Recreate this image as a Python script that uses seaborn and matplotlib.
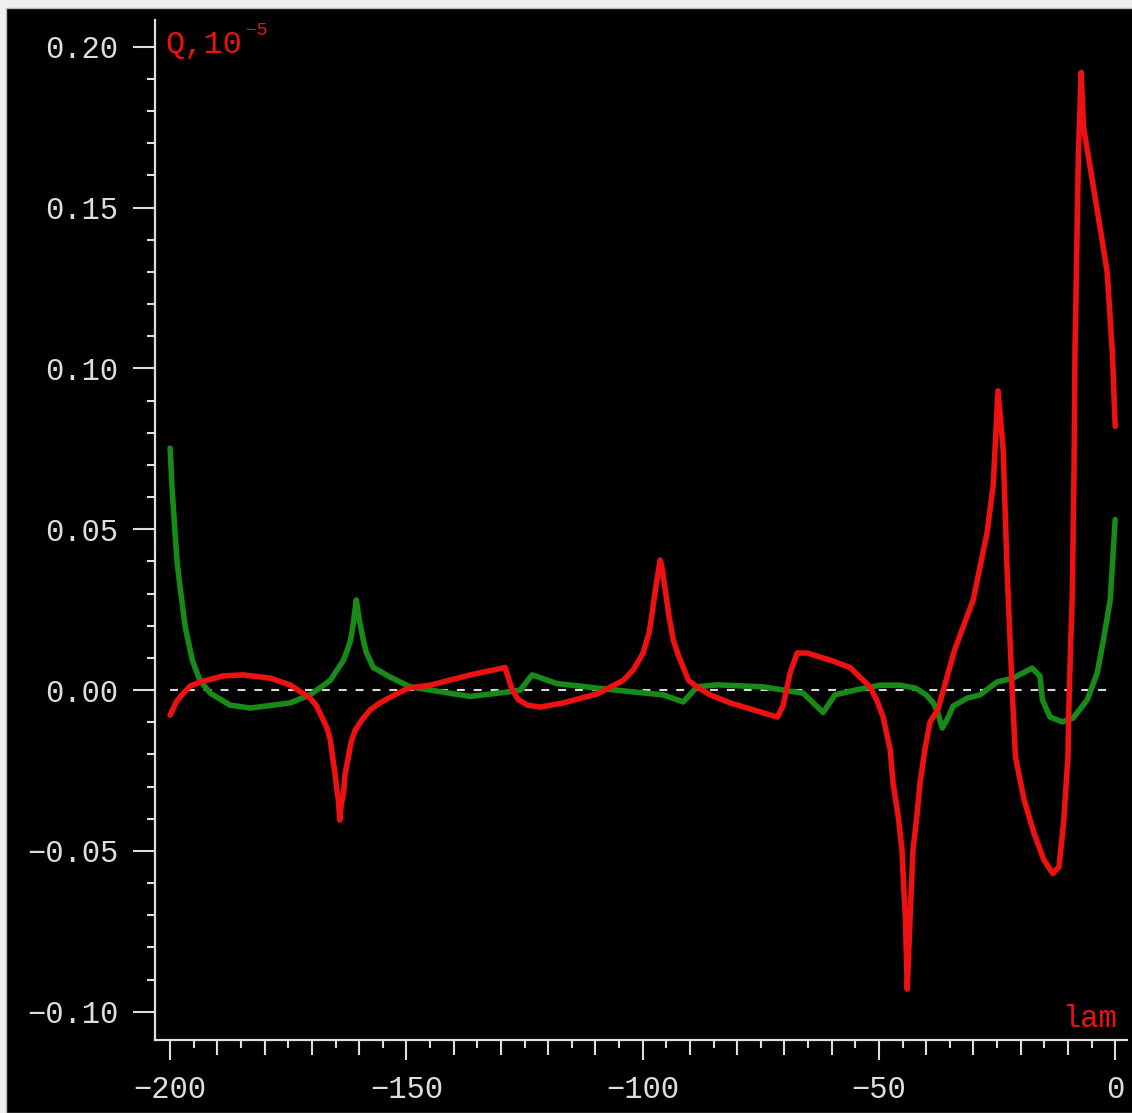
import numpy as np
import pandas as pd
import matplotlib
matplotlib.use("Agg")
import matplotlib.pyplot as plt
import seaborn as sns
from matplotlib.ticker import MultipleLocator, FuncFormatter
from matplotlib.patches import Rectangle

# ---- data ----
lam_red = [-200.0, -198.7, -197.2, -195.8, -193.6, -188.8, -184.5, -178.8, -174.6,
           -170.4, -169.1, -167.6, -166.8, -166.1, -165.7, -165.1, -164.8, -164.4,
           -164.1, -163.8, -163.3, -163.0, -162.3, -161.7, -160.8, -159.4, -157.7,
           -155.6, -153.4, -149.6, -145.0, -136.5, -129.1, -127.6, -126.3, -124.4,
           -121.7, -116.8, -109.6, -104.1, -102.0, -99.9, -98.6, -97.8, -97.0, -96.3,
           -95.9, -95.2, -94.4, -93.5, -92.5, -91.4, -90.3, -88.5, -85.7, -81.5,
           -71.5, -70.3, -68.8, -67.3, -65.2, -60.3, -56.1, -51.9, -50.5, -49.1,
           -47.6, -47.0, -45.9, -45.1, -44.8, -44.4, -44.0, -43.4, -42.8, -42.0,
           -41.3, -40.3, -39.2, -37.5, -34.0, -30.05, -27.1, -25.8, -24.8, -23.7,
           -22.9, -21.8, -21.1, -19.3, -17.2, -15.1, -13.2, -11.9, -10.9, -10.0,
           -9.8, -9.4, -9.1, -8.7, -8.5, -8.3, -7.8, -7.2, -6.7, -3.0, -1.7, -0.6, 0.0]
q_red = [-0.0078, -0.0037, -0.0010, 0.0012, 0.0025, 0.0044, 0.0047, 0.0037, 0.0016,
         -0.0025, -0.0047, -0.0093, -0.0118, -0.0155, -0.0200, -0.0260, -0.0300, -0.0340,
         -0.0404, -0.0357, -0.0320, -0.0264, -0.0210, -0.0162, -0.0124, -0.0093, -0.0062,
         -0.0040, -0.0022, 0.0006, 0.0015, 0.0047, 0.0070, 0.0000, -0.0030, -0.0047,
         -0.0053, -0.0040, -0.0012, 0.0030, 0.0062, 0.0115, 0.0180, 0.0260, 0.0340, 0.0404,
         0.0380, 0.0310, 0.0227, 0.0155, 0.0110, 0.0070, 0.0030, 0.0010, -0.0015, -0.0040,
         -0.0084, -0.0050, 0.0053, 0.0115, 0.0115, 0.0093, 0.0070, 0.0010, -0.0030, -0.0084,
         -0.0187, -0.0290, -0.0395, -0.0500, -0.0600, -0.0705, -0.0930, -0.0705, -0.0500, -0.0395,
         -0.0290, -0.0187, -0.0100, -0.0060, 0.0124, 0.0280, 0.0490, 0.0640, 0.0930, 0.0746,
         0.0380, 0.0000, -0.0208, -0.0340, -0.0444, -0.0528, -0.0570, -0.0550, -0.0410, -0.0208,
         -0.0053, 0.0155, 0.0280, 0.0690, 0.1060, 0.1220, 0.1660, 0.1920, 0.1750, 0.1420, 0.1300, 0.1050, 0.0820]

lam_green = [-200.0, -199.6, -198.9, -198.5, -197.9, -196.8, -195.3, -193.7, -191.5,
             -187.3, -183.1, -178.2, -174.6, -170.4, -166.1, -163.3, -162.5, -161.8,
             -161.3, -160.6, -160.0, -159.1, -158.5, -157.0, -153.4, -149.2, -145.0,
             -136.5, -128.0, -125.9, -123.4, -118.1, -109.6, -102.6, -95.7, -91.4,
             -88.5, -84.2, -74.5, -70.3, -66.0, -61.8, -59.3, -55.0, -49.7, -45.5,
             -42.3, -40.0, -38.5, -37.6, -36.6, -35.6, -34.3, -31.3, -28.6, -25.0,
             -21.6, -17.6, -15.9, -15.4, -13.8, -11.2, -8.9, -5.9, -3.8, -2.5, -1.05, 0.0]
q_green = [0.0752, 0.0630, 0.0476, 0.0395, 0.0320, 0.0196, 0.0093, 0.0030, -0.0010,
           -0.0047, -0.0056, -0.0047, -0.0040, -0.0015, 0.0030, 0.0093, 0.0124, 0.0155,
           0.0200, 0.0280, 0.0220, 0.0155, 0.0118, 0.0070, 0.0040, 0.0010, 0.0000,
           -0.0020, -0.0005, 0.0000, 0.0047, 0.0020, 0.0006, -0.0005, -0.0015, -0.0037,
           0.0010, 0.0016, 0.0010, 0.0000, -0.0010, -0.0070, -0.0015, 0.0000, 0.0015, 0.0015,
           0.0006, -0.0015, -0.0040, -0.0068, -0.0118, -0.0093, -0.0050, -0.0025, -0.0015, 0.0025,
           0.0037, 0.0068, 0.0043, -0.0030, -0.0084, -0.0099, -0.0087, -0.0030, 0.0053, 0.0155,
           0.0280, 0.0530]

x_label = "lam"
y_label = "Q,10"
y_label_exp = "\u22125"

RED = "#ee1111"
GREEN = "#178a17"
FG = "#dedede"

sns.set_theme(style="ticks", rc={"axes.grid": False})
plt.rcParams["font.family"] = ["Liberation Mono", "DejaVu Sans Mono"]

W, H = 1132, 1113
fig = plt.figure(figsize=(W / 100, H / 100), dpi=100, facecolor="#efefef")
fig.add_artist(Rectangle((6 / W, 0), 1, 1 - 8 / H, transform=fig.transFigure,
                         facecolor="black", edgecolor="#b8b8b8", lw=1.0, zorder=-10))

ax = fig.add_axes([155 / W, 1 - 1040 / H, (1127 - 155) / W, (1040 - 20) / H])
ax.set_facecolor("black")

df_red = pd.DataFrame({"lam": lam_red, "Q": q_red})
df_green = pd.DataFrame({"lam": lam_green, "Q": q_green})

ax.hlines(0, min(lam_red), max(lam_red), colors="#d8d8d8",
          linestyles=(0, (3.8, 4.3)), lw=1.5, zorder=1)
sns.lineplot(data=df_green, x="lam", y="Q", ax=ax, color=GREEN, lw=4.0,
             estimator=None, sort=False, zorder=2)
sns.lineplot(data=df_red, x="lam", y="Q", ax=ax, color=RED, lw=4.0,
             estimator=None, sort=False, zorder=3)

ax.set_xlim(-203.2, 2.5)
ax.set_ylim(-0.1088, 0.2083)
ax.set_xlabel("")
ax.set_ylabel("")

for s in ["top", "right"]:
    ax.spines[s].set_visible(False)
for s in ["left", "bottom"]:
    ax.spines[s].set_color(FG)
    ax.spines[s].set_linewidth(1.6)

ax.xaxis.set_major_locator(MultipleLocator(50))
ax.xaxis.set_minor_locator(MultipleLocator(5))
ax.yaxis.set_major_locator(MultipleLocator(0.05))
ax.yaxis.set_minor_locator(MultipleLocator(0.01))

def yfmt(v, pos):
    if abs(v) < 1e-9:
        v = 0.0
    return f"{v:.2f}".replace("-", "\u2212")

def xfmt(v, pos):
    return f"{int(round(v))}".replace("-", "\u2212")

ax.yaxis.set_major_formatter(FuncFormatter(yfmt))
ax.xaxis.set_major_formatter(FuncFormatter(xfmt))

ax.tick_params(axis="both", which="both", colors=FG, width=1.5, direction="out",
               labelcolor=FG, labelsize=22)
ax.tick_params(axis="y", which="major", length=15.8, pad=10.5)
ax.tick_params(axis="y", which="minor", length=5.8)
ax.tick_params(axis="x", which="major", length=14.4, pad=11)
ax.tick_params(axis="x", which="minor", length=5.8)

fig.canvas.draw()
for t, loc in zip(ax.xaxis.get_minor_ticks(), ax.xaxis.get_minorticklocs()):
    if abs(loc / 10 - round(loc / 10)) < 1e-6:
        t.tick1line.set_markersize(10.8)
    else:
        t.tick1line.set_markersize(5.8)

ax.text(10 / 972, 1 - 33 / 1020, y_label, color=RED, fontsize=23,
        transform=ax.transAxes, ha="left", va="baseline")
ax.text(91 / 972, 1 - 15 / 1020, y_label_exp, color=RED, fontsize=13,
        transform=ax.transAxes, ha="left", va="baseline")
ax.text((1117 - 155) / 972, 13 / 1020, x_label, color=RED, fontsize=22,
        transform=ax.transAxes, ha="right", va="baseline")

fig.savefig("out.png", dpi=100, facecolor=fig.get_facecolor())
